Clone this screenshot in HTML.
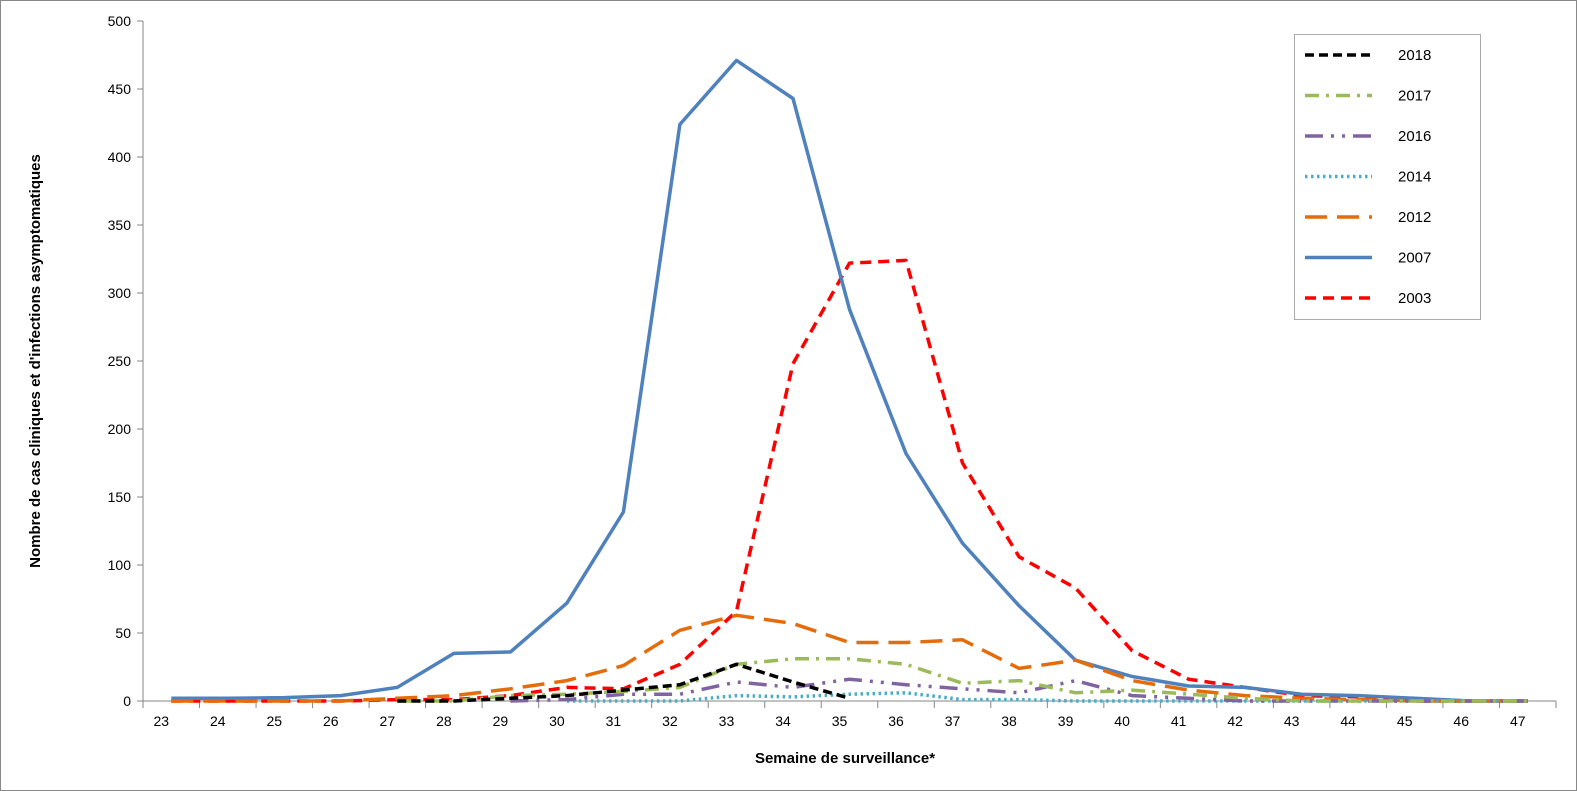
<!DOCTYPE html>
<html><head><meta charset="utf-8"><style>
body{margin:0;background:#fff}
svg{display:block;font-family:"Liberation Sans",sans-serif}
</style></head><body>
<svg id="c" width="1577" height="791">
<rect x="0.5" y="0.5" width="1576" height="790" fill="#fff" stroke="#888"/>
<g id="g"></g>
</svg>
<script>
const weeks=[23,24,25,26,27,28,29,30,31,32,33,34,35,36,37,38,39,40,41,42,43,44,45,46,47];
const yTicks=[0,50,100,150,200,250,300,350,400,450,500];
const s2018=[null,null,null,null,0,0,2,4,8,12,27,14,2,null,null,null,null,null,null,null,null,null,null,null,null];
const s2017=[null,null,null,null,0,0,4,5,7,10,27,31,31,27,13,15,6,8,5,2,0,0,0,0,0];
const s2016=[null,null,null,null,null,null,0,1,5,5,14,10,16,12,9,6,15,4,2,0,0,0,0,0,0];
const s2014=[null,null,null,null,null,null,null,0,0,0,4,3,5,6,1,1,0,0,0,0,0,0,0,0,0];
const s2012=[0,0,0,0,2,4,9,15,26,52,63,57,43,43,45,24,30,15,8,4,2,1,0,0,0];
const s2007=[2,2,2.5,4,10,35,36,72,139,424,471,443,288,182,116,70,30,18,11,10,5,4,2,0,0];
const s2003=[0,0,0,0,1,1,4,10,9,27,66,248,322,324,175,106,83,37,16,10,4,3,0,0,0];
const series=[
 {name:"2018",data:s2018,color:"#000000",dash:"9,5",w:3.5},
 {name:"2017",data:s2017,color:"#9BBB59",dash:"14,7,3,7",w:3.5},
 {name:"2016",data:s2016,color:"#8064A2",dash:"18,8,3,8,3,8",w:3.5},
 {name:"2014",data:s2014,color:"#4BACC6",dash:"2.5,3.5",w:3.5},
 {name:"2012",data:s2012,color:"#E46C0A",dash:"22,10",w:3.5},
 {name:"2007",data:s2007,color:"#4F81BD",dash:"",w:3.5},
 {name:"2003",data:s2003,color:"#FF0000",dash:"11,7",w:3.5}
];
const X0=143,STEP=56.52,Y0=701,YS=680/500;
const xPos=i=>X0+STEP*(i+0.5);
const yPos=v=>Y0-v*YS;
const NS="http://www.w3.org/2000/svg";
const g=document.getElementById('g');
function el(t,a,p){const e=document.createElementNS(NS,t);for(const k in a)e.setAttribute(k,a[k]);(p||g).appendChild(e);return e;}
let ax=el('line',{x1:X0,y1:21,x2:X0,y2:Y0,stroke:'#868686','stroke-width':1});


let bx=el('line',{x1:X0,y1:Y0,x2:X0+STEP*weeks.length,y2:Y0,stroke:'#868686','stroke-width':1});


yTicks.forEach(v=>{
 el('line',{x1:X0-6,y1:yPos(v),x2:X0,y2:yPos(v),stroke:'#868686'});
 const t=el('text',{x:X0-12,y:yPos(v)+5,'text-anchor':'end','font-size':14,fill:'#000'});
 t.textContent=v;
 
 
});
for(let i=0;i<=weeks.length;i++)el('line',{x1:X0+STEP*i,y1:Y0,x2:X0+STEP*i,y2:Y0+7,stroke:'#868686'});
weeks.forEach((w,i)=>{
 const t=el('text',{x:xPos(i)-10,y:Y0+25,'text-anchor':'middle','font-size':14,fill:'#000'});
 t.textContent=w;
 
 
});
series.slice().reverse().forEach(s=>{
 let d='',pen=false;
 s.data.forEach((v,i)=>{if(v==null){pen=false;return;}d+=(pen?'L':'M')+xPos(i).toFixed(1)+','+yPos(v).toFixed(1);pen=true;});
 const p=el('path',{d:d,fill:'none',stroke:s.color,'stroke-width':s.w,'stroke-dasharray':s.dash,'stroke-linejoin':'round'});
 
 
});
const lg=el('g',{});


el('rect',{x:1294.5,y:34.5,width:186,height:285,fill:'#fff',stroke:'#aaa'},lg);
series.forEach((s,i)=>{
 const y=55+i*40.5;
 const e=el('g',{},lg);
 
 
 el('line',{x1:1305,y1:y,x2:1372,y2:y,stroke:s.color,'stroke-width':s.w,'stroke-dasharray':s.dash},e);
 const t=el('text',{x:1398,y:y+5,'font-size':15,fill:'#000'},e);
 t.textContent=s.name;
});
const xt=el('text',{x:845,y:763,'text-anchor':'middle','font-size':15,'font-weight':'bold'});
xt.textContent='Semaine de surveillance*';


const yt=el('text',{x:0,y:0,'text-anchor':'middle','font-size':15,'font-weight':'bold',transform:'translate(40,361) rotate(-90)'});
yt.textContent="Nombre de cas cliniques et d'infections asymptomatiques";


</script>
</body></html>
